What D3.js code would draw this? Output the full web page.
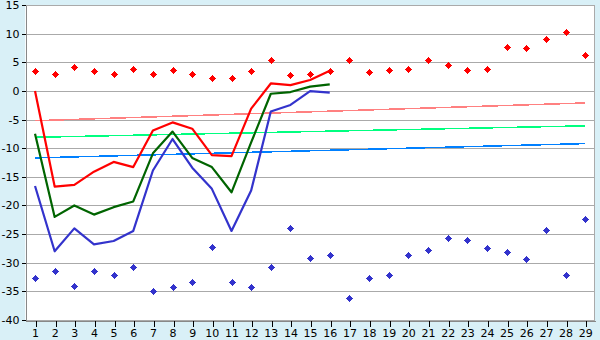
<!DOCTYPE html>
<html><head><meta charset="utf-8">
<script src="https://cdn.jsdelivr.net/npm/d3@7"></script>
<style>
html,body{margin:0;padding:0;background:#d9f0f7;}
svg{display:block;}
text{font-family:"DejaVu Sans",Verdana,sans-serif;font-size:11px;fill:#000;}
</style></head>
<body><svg id="c" width="600" height="340"></svg>
<script>
const categories = d3.range(1, 30);
const yTicks = [-40,-35,-30,-25,-20,-15,-10,-5,0,5,10,15];
const redLine   = [0,-16.7,-16.4,-14.1,-12.4,-13.3,-6.9,-5.5,-6.6,-11.2,-11.4,-3.1,1.3,1.0,1.9,3.5];
const greenLine = [-7.5,-22.0,-20.0,-21.6,-20.3,-19.3,-10.9,-7.1,-11.7,-13.3,-17.7,-9.0,-0.5,-0.2,0.75,1.15];
const blueLine  = [-16.6,-28.0,-24.0,-26.8,-26.2,-24.45,-13.9,-8.4,-13.4,-17.1,-24.45,-17.4,-3.6,-2.45,-0.05,-0.3];
const redPoints = [3.5,3.0,4.2,3.5,3.0,3.8,3.0,3.7,3.0,2.3,2.3,3.5,5.4,2.8,3.0,3.5,5.4,3.3,3.65,3.8,5.4,4.5,3.65,3.8,7.65,7.5,9.05,10.3,6.25];
const bluePoints = [-32.75,-31.5,-34.0,-31.5,-32.2,-30.8,-35.0,-34.3,-33.3,-27.2,-33.3,-34.3,-30.7,-24.0,-29.1,-28.6,-36.1,-32.75,-32.2,-28.7,-27.7,-25.6,-26.1,-27.35,-28.2,-29.3,-24.2,-32.2,-22.3];
const trendPink  = [-5.2, -2.1];
const trendGreen = [-8.1, -6.1];
const trendBlue  = [-11.7, -9.2];

const svg = d3.select("#c");
const L = 25.2, R = 595, T = 5, B = 320;
const x = d3.scalePoint().domain(categories).range([L, R]).padding(0.5);
const y = d3.scaleLinear().domain([-40, 15]).range([B, T]);

svg.append("rect").attr("x", L).attr("y", T).attr("width", R - L).attr("height", B - T).attr("fill", "#fff");

// grid
svg.append("g").selectAll("line").data(yTicks).join("line")
  .attr("x1", L).attr("x2", R).attr("y1", d => Math.round(y(d)) + 0.5).attr("y2", d => Math.round(y(d)) + 0.5)
  .attr("stroke", "#aaa").attr("stroke-width", 1).attr("shape-rendering", "crispEdges");
svg.append("line").attr("x1", R - 0.5).attr("x2", R - 0.5).attr("y1", T).attr("y2", B)
  .attr("stroke", "#aaa").attr("shape-rendering", "crispEdges");

// axes
const yAxis = svg.append("g").attr("transform", `translate(${Math.round(L) + 0.5},0)`)
  .call(d3.axisLeft(y).tickValues(yTicks).tickSize(4).tickSizeOuter(0).tickPadding(2).tickFormat(d => String(d)));
const xAxis = svg.append("g").attr("transform", `translate(0,${B + 0.5})`)
  .call(d3.axisBottom(x).tickSize(6).tickSizeOuter(0).tickPadding(3));
[yAxis, xAxis].forEach(a => {
  a.select(".domain").attr("stroke", "#888").attr("shape-rendering", "crispEdges");
  a.selectAll(".tick line").attr("stroke", "#000").attr("shape-rendering", "crispEdges");
  a.selectAll("text").attr("font-family", "DejaVu Sans, Verdana, sans-serif").attr("font-size", 11).attr("fill", "#000");
});
xAxis.selectAll(".tick line").attr("transform", d => `translate(${Math.round(x(d)) + 0.5 - x(d)},0)`);

// trend lines
const trends = [[trendPink, "#ff8080"], [trendGreen, "#00ff80"], [trendBlue, "#0080ff"]];
trends.forEach(([t, c]) => {
  svg.append("line").attr("x1", x(1)).attr("x2", x(29)).attr("y1", y(t[0])).attr("y2", y(t[1]))
    .attr("stroke", c).attr("stroke-width", 1.5).attr("shape-rendering", "crispEdges");
});

// lines
const line = d3.line().x((d, i) => x(categories[i])).y(d => y(d));
[[redLine, "#ff0000"], [greenLine, "#006400"], [blueLine, "#3333cc"]].forEach(([s, c]) => {
  svg.append("path").datum(s).attr("d", line).attr("fill", "none").attr("stroke", c)
    .attr("stroke-width", 2.2).attr("stroke-linejoin", "round");
});

// markers: bold plus with thin tips
const markerPath = "M-0.5,-3.5H0.5V-2.5H1.5V-1.5H2.5V-0.5H3.5V0.5H2.5V1.5H1.5V2.5H0.5V3.5H-0.5V2.5H-1.5V1.5H-2.5V0.5H-3.5V-0.5H-2.5V-1.5H-1.5V-2.5H-0.5Z";
[[redPoints, "#ff0000"], [bluePoints, "#3333cc"]].forEach(([s, c]) => {
  svg.append("g").selectAll("path").data(s).join("path")
    .attr("d", markerPath).attr("fill", c).attr("shape-rendering", "crispEdges")
    .attr("transform", (d, i) => `translate(${Math.round(x(categories[i])) + 0.5},${Math.round(y(d)) + 0.5})`);
});
</script></body></html>
